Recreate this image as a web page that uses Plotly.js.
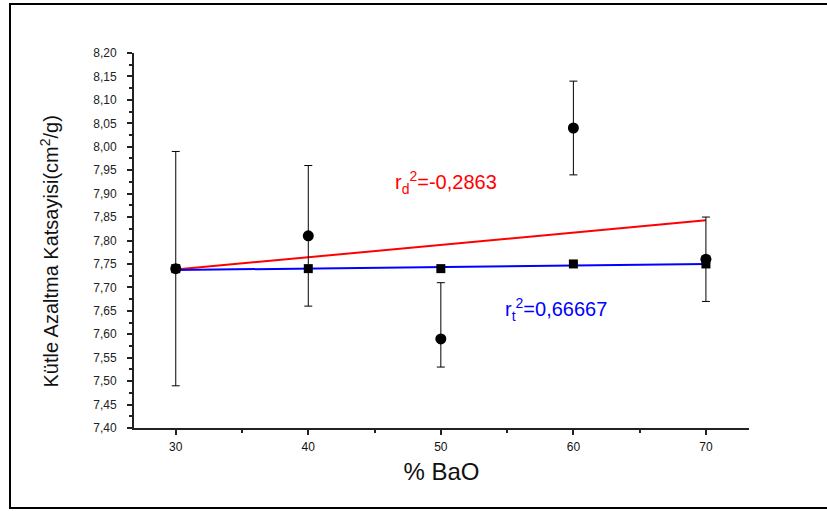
<!DOCTYPE html>
<html>
<head>
<meta charset="utf-8">
<script src="https://cdn.plot.ly/plotly-3.0.1.min.js"></script>
<style>
html,body{margin:0;padding:0;background:#fff;}
#wrap{position:relative;width:827px;height:511px;}
#chart{position:absolute;left:0;top:0;width:827px;height:511px;}
#frame{position:absolute;left:9px;top:3px;width:830px;height:502px;border-left:2px solid #000;border-top:2px solid #000;border-bottom:2px solid #000;pointer-events:none;}
</style>
</head>
<body>
<div id="wrap"><div id="chart"></div><div id="frame"></div></div>
<script>
// Data
const baoPct = [30, 40, 50, 60, 70];
const attenExp = [7.74, 7.81, 7.59, 8.04, 7.76];
const errPlus = [0.25, 0.15, 0.12, 0.10, 0.09];
const errMinus = [0.25, 0.15, 0.06, 0.10, 0.09];
const attenTheo = [7.74, 7.74, 7.74, 7.75, 7.75];
const fitX = [30, 70];
const fitExp = [7.738, 7.843];
const fitTheo = [7.737, 7.75];
const yTicks = [7.40, 7.45, 7.50, 7.55, 7.60, 7.65, 7.70, 7.75, 7.80, 7.85, 7.90, 7.95, 8.00, 8.05, 8.10, 8.15, 8.20];
const xTicks = [30, 40, 50, 60, 70];
const labelExp = 'r<sub>d</sub><sup>2</sup>=-0,2863';
const labelTheo = 'r<sub>t</sub><sup>2</sup>=0,66667';
const yTitle = 'Kütle Azaltma Katsayisi(cm<sup>2</sup>/g)';

const traces = [
  {x: fitX, y: fitExp, mode: 'lines', line: {color: '#ff0000', width: 2}, hoverinfo: 'skip'},
  {x: fitX, y: fitTheo, mode: 'lines', line: {color: '#0000ff', width: 2}, hoverinfo: 'skip'},
  {x: baoPct, y: attenExp, mode: 'markers', marker: {symbol: 'circle', size: 11, color: '#000'},
   error_y: {type: 'data', symmetric: false, array: errPlus, arrayminus: errMinus, color: '#000', thickness: 1, width: 4}},
  {x: baoPct, y: attenTheo, mode: 'markers', marker: {symbol: 'square', size: 9, color: '#000'}}
];

const layout = {
  width: 827, height: 511,
  margin: {l: 134, r: 78, t: 53, b: 83},
  paper_bgcolor: '#fff', plot_bgcolor: '#fff',
  showlegend: false,
  separators: ',.',
  font: {family: 'Arial, Liberation Sans, sans-serif', color: '#222'},
  xaxis: {
    range: [26.85, 73.25], tickvals: xTicks, ticks: 'outside', ticklen: 5, tickwidth: 2, tickcolor: '#222',
    showgrid: false, zeroline: false, showline: true, linecolor: '#222', linewidth: 2,
    tickfont: {size: 12, color: '#111'}, ticklabelstandoff: 2,
    minor: {dtick: 5, ticks: 'outside', ticklen: 3, tickwidth: 2, tickcolor: '#222', showgrid: false},
    title: {text: '% BaO', font: {size: 24, color: '#111'}, standoff: 10}
  },
  yaxis: {
    range: [7.40, 8.20], tickvals: yTicks, tickformat: '.2f', ticks: 'outside', ticklen: 5, tickwidth: 2, tickcolor: '#222',
    showgrid: false, zeroline: false, showline: true, linecolor: '#222', linewidth: 2,
    tickfont: {size: 12, color: '#222'}, ticklabelstandoff: 8,
    minor: {dtick: 0.025, ticks: 'outside', ticklen: 3, tickwidth: 2, tickcolor: '#222', showgrid: false}
  },
  annotations: [
    {x: -0.137, y: 0.47, xref: 'paper', yref: 'paper', text: yTitle, textangle: -90, showarrow: false, xanchor: 'center', yanchor: 'middle', font: {size: 20, color: '#111'}},
    {x: 46.4, y: 7.923, xref: 'x', yref: 'y', text: labelExp, showarrow: false, xanchor: 'left', yanchor: 'middle', font: {size: 20, color: '#ff0000'}},
    {x: 54.7, y: 7.652, xref: 'x', yref: 'y', text: labelTheo, showarrow: false, xanchor: 'left', yanchor: 'middle', font: {size: 20, color: '#0000ff'}}
  ]
};

Plotly.newPlot('chart', traces, layout, {displayModeBar: false, staticPlot: true});
</script>
</body>
</html>
